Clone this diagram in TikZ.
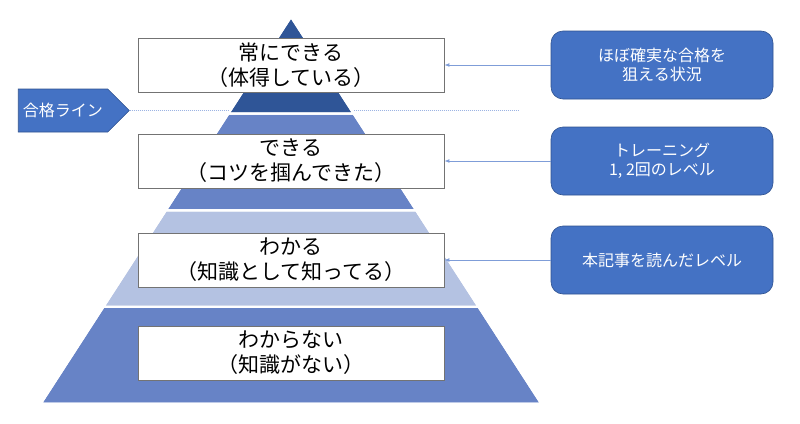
\documentclass[tikz,border=0pt]{standalone}
\usepackage{fontspec}
\setmainfont{Noto Sans CJK JP}
\usetikzlibrary{shapes.symbols}
\definecolor{darkband}{HTML}{2F5597}
\definecolor{midband}{HTML}{6783C6}
\definecolor{lightband}{HTML}{B4C2E2}
\definecolor{notefill}{HTML}{4472C4}
\definecolor{noteline}{HTML}{2F528F}
\definecolor{linkline}{HTML}{7F9DD8}
\definecolor{passdots}{HTML}{9DB4E3}
\tikzset{
  level/.style={draw=black!55, fill=white, line width=0.9pt, minimum width=306pt,
    minimum height=54pt, align=center, font=\fontsize{21}{25}\selectfont},
  note/.style={draw=noteline, fill=notefill, text=white, line width=0.6pt,
    rounded corners=12pt, minimum width=222pt, minimum height=68pt, align=center,
    font=\fontsize{16}{19}\selectfont},
  pass/.style={signal, signal to=east, signal pointer angle=90, draw=noteline,
    fill=notefill, text=white, line width=0.6pt, minimum width=111pt,
    minimum height=43pt, font=\fontsize{16}{19}\selectfont},
  band/.style={draw=white, line width=2pt, line join=miter},
}
\begin{document}
\begin{tikzpicture}[x=1pt,y=-1pt,node distance=96pt,auto]
\useasboundingbox (0,0) rectangle (800,423);
% pass line
\node[pass] (pass) at (63,110.5) {合格ライン};
\coordinate (passend) at (518,110.5);
\draw[passdots, line width=0.8pt, dash pattern=on 1pt off 1pt] (pass.east) -- (passend);
% pyramid
\fill[band, fill=darkband] (291,17) -- (353.5,113.6) -- (228.5,113.6) -- cycle;
\fill[band, fill=midband] (228.5,113.6) -- (353.5,113.6) -- (416,210.25) -- (166,210.25) -- cycle;
\fill[band, fill=lightband] (166,210.25) -- (416,210.25) -- (478.5,306.9) -- (103.5,306.9) -- cycle;
\fill[band, fill=midband] (103.5,306.9) -- (478.5,306.9) -- (541,403.5) -- (41,403.5) -- cycle;
\path[band] (291,17) -- (353.5,113.6) -- (228.5,113.6) -- cycle;
\path[band] (228.5,113.6) -- (353.5,113.6) -- (416,210.25) -- (166,210.25) -- cycle;
\path[band] (166,210.25) -- (416,210.25) -- (478.5,306.9) -- (103.5,306.9) -- cycle;
\path[band] (103.5,306.9) -- (478.5,306.9) -- (541,403.5) -- (41,403.5) -- cycle;
% levels
\node[level] (lvl1) at (291,65) {常にできる\\（体得している）};
\node[level] (lvl2) [below of=lvl1] {できる\\（コツを掴んできた）};
\node[level] (lvl3) [below of=lvl2, yshift=-3pt] {わかる\\（知識として知ってる）};
\node[level] (lvl4) [below of=lvl3, yshift=3pt] {わからない\\（知識がない）};
% notes
\node[note] (note1) [right of=lvl1, node distance=371pt] {ほぼ確実な合格を\\狙える状況};
\node[note] (note2) [right of=lvl2, node distance=371pt] {トレーニング\\1, 2回のレベル};
\node[note] (note3) [right of=lvl3, node distance=371pt] {本記事を読んだレベル};
\path[->, >=latex, linkline, line width=0.7pt] (note1) edge (lvl1);
\path[->, >=latex, linkline, line width=0.7pt] (note2) edge (lvl2);
\path[->, >=latex, linkline, line width=0.7pt] (note3) edge (lvl3);
\end{tikzpicture}
\end{document}
